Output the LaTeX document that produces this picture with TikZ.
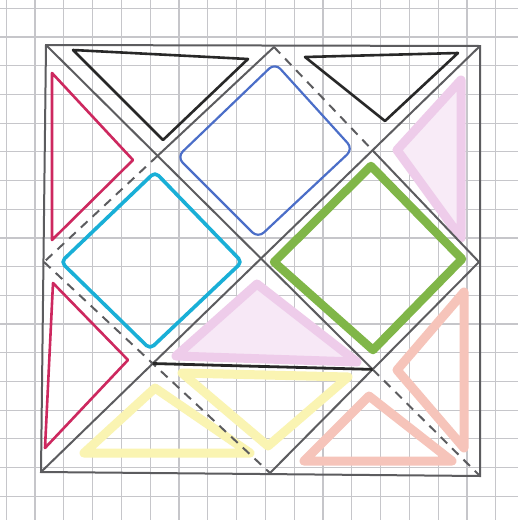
\documentclass[tikz,border=0pt]{standalone}

\definecolor{gridgray}{RGB}{198,198,202}
\definecolor{pencilgray}{RGB}{92,92,95}
\definecolor{inkblack}{RGB}{40,40,40}
\definecolor{crimson}{RGB}{205,40,95}
\definecolor{penblue}{RGB}{75,110,200}
\definecolor{pencyan}{RGB}{25,175,215}
\definecolor{markgreen}{RGB}{128,182,72}
\definecolor{markpink}{RGB}{238,204,234}
\definecolor{markyellow}{RGB}{250,244,178}
\definecolor{marksalmon}{RGB}{246,196,186}

\begin{document}
\begin{tikzpicture}[
  x=1pt,y=-1pt,
  pencil/.style={draw=pencilgray,line width=2pt,line cap=round},
  fold/.style={draw=pencilgray,line width=2pt,dash pattern=on 9pt off 7pt},
  pen/.style={draw=#1,line width=2.6pt,line join=round,line cap=round},
  marker/.style={draw=#1,line width=9pt,line join=round,line cap=round},
  gridline/.style={draw=gridgray,line width=1.2pt}
]
\useasboundingbox (0,0) rectangle (518,520);
\fill[white] (0,0) rectangle (518,520);

% squared paper
\foreach \k in {-1,...,17}{
  \draw[gridline] ({35+28.8*\k},0) -- ({35+28.8*\k},520);
  \draw[gridline] (0,{37+28.7*\k}) -- (518,{37+28.7*\k});
}

% corners and edge midpoints
\coordinate (tl) at (46,45);
\coordinate (tr) at (480,46);
\coordinate (br) at (480,476);
\coordinate (bl) at (41,472);
\coordinate (tm) at (274,47);
\coordinate (lm) at (44,262);
\coordinate (rm) at (479,262);
\coordinate (bm) at (270,473);

% crossings
\coordinate (c1) at (intersection of tl--br and tm--lm);
\coordinate (c2) at (intersection of tr--bl and tm--rm);
\coordinate (c3) at (intersection of tr--bl and lm--bm);
\coordinate (c4) at (intersection of tl--br and rm--bm);
\coordinate (o) at (intersection of tl--br and tr--bl);

% highlighter triangles first
\filldraw[marker=markpink,fill=markpink!45] (257,284) -- (176,356) -- (357,362) -- cycle;
\filldraw[marker=markpink,fill=markpink!40] (397,150) -- (461,80) -- (461,238) -- cycle;
\draw[marker=markyellow] (155,388) -- (84,453) -- (250,453) -- cycle;
\draw[marker=markyellow] (182,373) -- (348,377) -- (268,446) -- cycle;
\draw[marker=marksalmon] (397,370) -- (464,292) -- (464,448) -- cycle;
\draw[marker=marksalmon] (369,396) -- (452,461) -- (304,461) -- cycle;

% the folded square
\draw[pencil] (tl) -- (tr) -- (br) -- (bl) -- cycle;
\draw[pencil] (tl) -- (c4);
\draw[fold] (c4) -- (br);
\draw[pencil] (tr) -- (bl);
\draw[pencil] (tm) -- (c1);
\draw[fold] (c1) -- (lm);
\draw[fold] (tm) -- (c2);
\draw[pencil] (c2) -- (rm);
\draw[pencil] (rm) -- (bm);
\draw[fold] (lm) -- (bm);
\draw[draw=inkblack,line width=2.8pt] (c3) -- (c4);

% pen triangles
\draw[pen=inkblack] (73,50) -- (248,59) -- (163,140) -- cycle;
\draw[pen=inkblack] (305,57) -- (458,53) -- (385,121) -- cycle;
\draw[pen=crimson] (52,73) -- (133,160) -- (52,240) -- cycle;
\draw[pen=crimson] (53,283) -- (128,360) -- (45,448) -- cycle;

% small squares
\draw[pen=penblue,line width=2.2pt,rounded corners=8pt] (275,63) -- (353,149) -- (258,238) -- (177,157) -- cycle;
\draw[pen=pencyan,line width=3.6pt,rounded corners=5pt] (155,172) -- (242,262) -- (150,349) -- (61,262) -- cycle;
\draw[pen=markgreen,line width=8.5pt,line cap=butt] (371,166) -- (462,259) -- (373,350) -- (274,262) -- cycle;
\end{tikzpicture}
\end{document}
